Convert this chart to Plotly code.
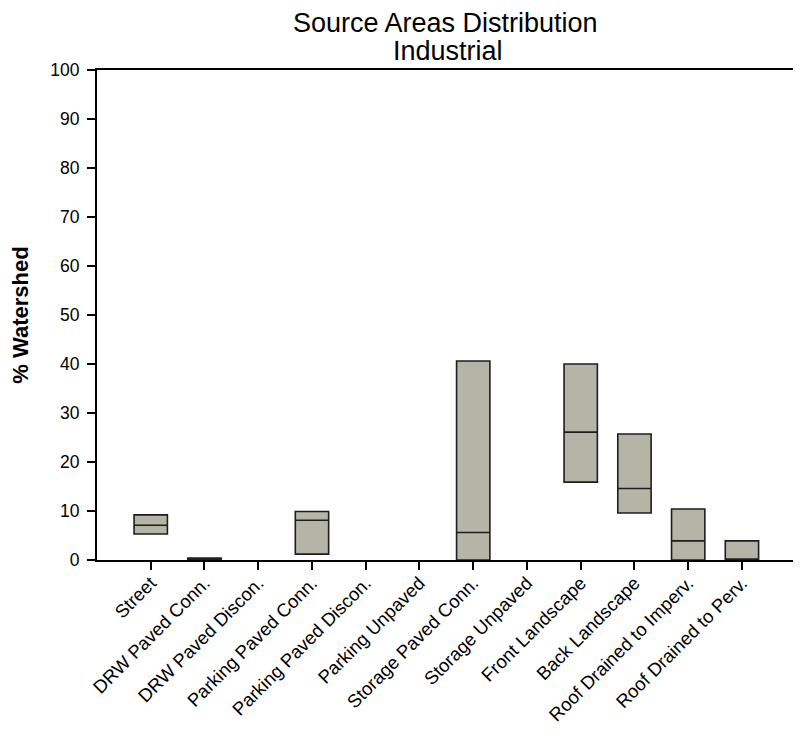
import plotly.graph_objects as go

categories = ["Street", "DRW Paved Conn.", "DRW Paved Discon.", "Parking Paved Conn.",
              "Parking Paved Discon.", "Parking Unpaved", "Storage Paved Conn.",
              "Storage Unpaved", "Front Landscape", "Back Landscape",
              "Roof Drained to Imperv.", "Roof Drained to Perv."]

box_cats = ["Street", "DRW Paved Conn.", "Parking Paved Conn.", "Storage Paved Conn.",
            "Front Landscape", "Back Landscape", "Roof Drained to Imperv.",
            "Roof Drained to Perv."]
q1_vals = [5.3, 0.0, 1.2, 0.0, 15.9, 9.6, 0.0, 0.0]
median_vals = [7.1, 0.2, 8.1, 5.6, 26.1, 14.6, 3.9, 0.0]
q3_vals = [9.2, 0.4, 9.9, 40.6, 40.0, 25.7, 10.4, 3.9]

y_ticks = [0, 10, 20, 30, 40, 50, 60, 70, 80, 90, 100]

fig = go.Figure()
fig.add_trace(go.Box(
    x=box_cats,
    q1=q1_vals,
    median=median_vals,
    q3=q3_vals,
    lowerfence=q1_vals,
    upperfence=q3_vals,
    width=0.62,
    fillcolor="#b5b5a7",
    line=dict(color="#1e1e1e", width=1.6),
    whiskerwidth=0,
    showlegend=False,
    hoverinfo="skip",
))

font_family = "Liberation Sans, Arial, sans-serif"
fig.update_layout(
    width=785, height=724,
    margin=dict(l=89, r=0, t=62, b=172, autoexpand=False),
    paper_bgcolor="white", plot_bgcolor="white",
    font=dict(family=font_family, color="black", size=17),
    title=dict(text="Source Areas Distribution",
               x=0.557, xanchor="center", y=0.980, yanchor="middle", yref="container",
               font=dict(size=27, family=font_family, color="black")),
    annotations=[dict(text="Industrial", xref="paper", yref="paper", x=0.505, y=1.0,
                      xanchor="center", yanchor="middle", yshift=19, showarrow=False,
                      font=dict(size=27, family=font_family, color="black"))],
    xaxis=dict(type="category", categoryorder="array", categoryarray=categories,
               range=[-1, 11.95], tickangle=-45, ticks="outside", ticklen=8,
               tickcolor="black", tickwidth=1.5, automargin=False,
               ticklabelstandoff=-5,
               showline=True, linecolor="black", linewidth=2, mirror=True,
               showgrid=False, zeroline=False, tickfont=dict(size=18.5)),
    yaxis=dict(range=[0, 100], tickvals=y_ticks, ticks="outside", ticklen=8,
               tickcolor="black", tickwidth=1.5, automargin=False,
               ticklabelstandoff=4,
               showline=True, linecolor="black", linewidth=2, mirror=True,
               showgrid=False, zeroline=False, tickfont=dict(size=17.5),
               title=dict(text="<b>% Watershed</b>", font=dict(size=22), standoff=16)),
)

fig.write_html("out.html")
